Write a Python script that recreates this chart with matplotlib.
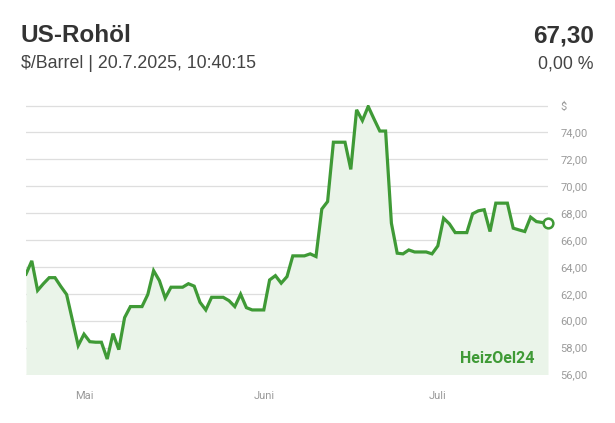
import matplotlib
matplotlib.use("Agg")
import matplotlib.pyplot as plt
import matplotlib.dates as mdates
import pandas as pd
import numpy as np

# ---- data ----
start_date = "2025-04-21"
prices = [
    63.46, 64.45, 62.25, 62.75, 63.20, 63.20, 62.55, 61.95, 60.05, 58.15,
    59.00, 58.44, 58.40, 58.40, 57.15, 59.04, 57.85, 60.23, 61.05, 61.05,
    61.05, 61.95, 63.72, 62.98, 61.69, 62.49, 62.49, 62.49, 62.75, 62.57,
    61.37, 60.80, 61.74, 61.74, 61.74, 61.49, 61.05, 61.97, 60.97, 60.80,
    60.80, 60.80, 63.03, 63.35, 62.79, 63.28, 64.82, 64.82, 64.82, 64.97,
    64.77, 68.30, 68.86, 73.27, 73.27, 73.27, 71.25, 75.68, 74.88, 75.93,
    75.00, 74.10, 74.10, 67.25, 65.02, 64.97, 65.26, 65.11, 65.11, 65.11,
    64.97, 65.56, 67.62, 67.20, 66.55, 66.55, 66.55, 67.95, 68.17, 68.25,
    66.63, 68.74, 68.74, 68.74, 66.88, 66.75, 66.63, 67.70, 67.37, 67.30,
    67.30,
]
dates = pd.date_range(start_date, periods=len(prices), freq="D")
month_ticks = ["2025-05-01", "2025-06-01", "2025-07-01"]
month_labels = ["Mai", "Juni", "Juli"]
y_ticks = [56, 58, 60, 62, 64, 66, 68, 70, 72, 74, 76]
title = "US-Rohöl"
subtitle = "$/Barrel | 20.7.2025, 10:40:15"
last_value = "67,30"
change = "0,00 %"

GREEN = "#3f9a36"
FILL = "#eaf4e9"
GRID = "#dedede"
TICK = "#9a9a9a"

fig = plt.figure(figsize=(6.15, 4.23), dpi=100)
ax = fig.add_axes([26/615, 1-374.5/423, (548-26)/615, (374.5-105.5)/423])

ax.fill_between(dates, prices, 56, color=FILL, lw=0, zorder=1)
ax.plot(dates, prices, color=GREEN, lw=2.3, zorder=3, solid_joinstyle="miter")
ax.plot(dates[-1:], prices[-1:], marker="o", ms=7, mfc="white", mec=GREEN,
        mew=1.8, zorder=4, clip_on=False)

ax.set_xlim(dates[0], dates[-1])
ax.set_ylim(56, 76)
for v in y_ticks:
    ax.axhline(v, color=GRID if v != 56 else "#d0d0d0", lw=0.9, zorder=0)

for s in ax.spines.values():
    s.set_visible(False)
ax.yaxis.tick_right()
ax.set_yticks(y_ticks)
ax.set_yticklabels(["%d,00" % v if v != 76 else "$" for v in y_ticks])
ax.tick_params(axis="y", length=0, pad=9, labelsize=8, labelcolor=TICK)
for lbl in ax.get_yticklabels():
    lbl.set_fontfamily("Roboto")
ax.set_xticks(pd.to_datetime(month_ticks))
ax.set_xticklabels(month_labels)
ax.tick_params(axis="x", length=0, pad=12, labelsize=8, labelcolor=TICK)
for lbl in ax.get_xticklabels():
    lbl.set_fontfamily("Roboto")

ax.text(0.975, 0.06, "HeizOel24", transform=ax.transAxes, ha="right", va="center",
        color=GREEN, fontsize=11.5, fontweight="bold", family="Roboto Condensed" if False else "Roboto", zorder=5)

fig.text(21/615, 1-36/423, title, ha="left", va="center", fontsize=17.5,
         fontweight="bold", color="#333333", family="Liberation Sans")
fig.text(594/615, 1-36/423, last_value, ha="right", va="center", fontsize=17.5,
         fontweight="bold", color="#333333", family="Liberation Sans")
fig.text(21/615, 1-64/423, subtitle, ha="left", va="center", fontsize=12.8,
         color="#444444", family="Liberation Sans")
fig.text(594/615, 1-64/423, change, ha="right", va="center", fontsize=12.8,
         color="#444444", family="Liberation Sans")

fig.savefig("out.png", dpi=100, facecolor="white")
